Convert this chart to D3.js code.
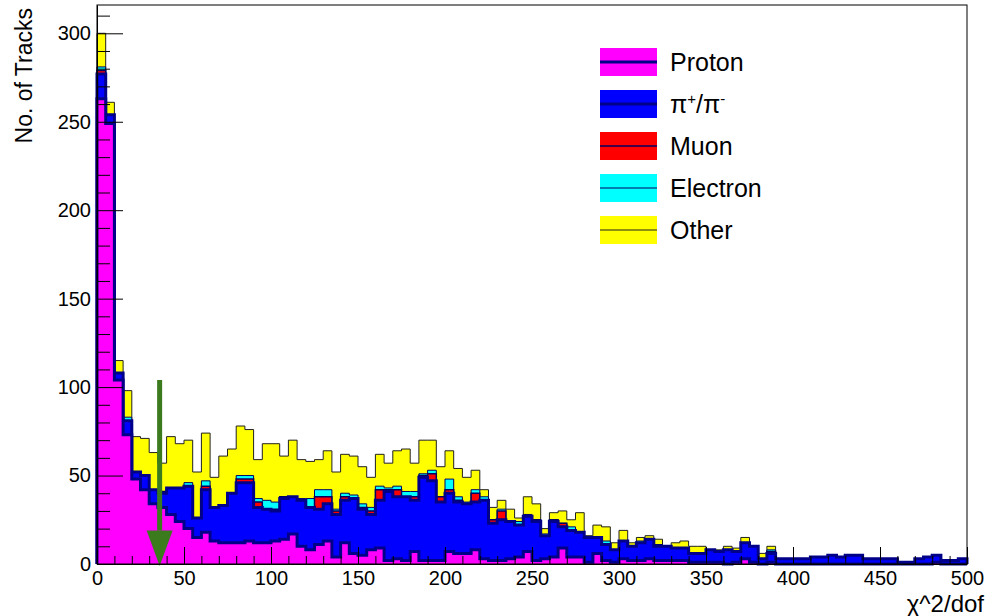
<!DOCTYPE html>
<html>
<head>
<meta charset="utf-8">
<script src="https://cdn.jsdelivr.net/npm/d3@7/dist/d3.min.js"></script>
<style>
  html, body { margin: 0; padding: 0; background: #fff; }
  svg { display: block; font-family: "Liberation Sans", Arial, Helvetica, sans-serif; }
</style>
</head>
<body>
<svg id="chart" width="987" height="616"></svg>
<script>
// ---------------- DATA ----------------
const binWidth = 5;
const xDomain = [0, 500];
const yDomain = [0, 316];
const binEdges = d3.range(0, 500, binWidth); // lower edge of each of the 100 bins

const proton = [
  263,249,104,73,48,42,34,32,28,24,
  20,15,18,13,12,12,12,13,12,12,
  13,14,17,10,8,11,13,4,12,6,
  5,8,9,2,3,2,7,2,2,2,
  7,6,6,8,3,2,2,3,4,7,
  2,3,4,9,4,4,1,6,2,1,
  3,2,2,3,2,2,2,2,1,1,
  1,1,0,1,3,1,0,1,0,0,
  0,0,0,0,0,0,0,0,0,0,
  0,0,0,0,0,0,1,0,0,0];
const pion = [
  14,5,4,8,4,8,8,8,15,19,
  24,11,24,19,21,28,34,33,20,19,
  17,23,21,26,24,20,21,24,24,31,
  26,20,27,39,35,36,29,47,45,33,
  33,29,28,27,33,21,23,21,18,20,
  22,13,20,12,15,14,14,9,9,7,
  10,8,10,11,8,8,7,7,5,5,
  7,6,8,6,9,9,3,5,3,3,
  3,3,4,4,5,4,5,5,3,3,
  3,3,1,1,3,4,4,2,2,3];
const muon = [
  2,0,0,0,0,0,0,1,0,0,
  0,0,2,0,0,0,2,2,3,0,
  1,1,0,0,0,7,4,2,2,0,
  1,2,6,1,4,0,2,1,4,3,
  2,1,0,5,0,2,5,0,0,0,
  1,0,1,2,0,0,0,0,0,0,
  0,0,0,0,0,0,0,0,0,0,
  0,0,0,0,0,0,0,1,0,0,
  0,0,0,0,0,0,0,0,0,0,
  0,0,0,0,0,0,0,0,0,0];
const electron = [
  2,0,0,2,0,0,0,0,0,0,
  2,0,3,0,0,0,2,2,2,5,
  4,0,0,1,5,4,4,1,2,2,
  2,2,2,1,2,3,3,1,2,0,
  6,2,1,2,2,0,1,0,2,1,
  0,1,0,0,2,0,0,0,2,0,
  0,0,1,0,1,0,0,0,0,0,
  0,0,0,0,0,0,0,1,0,0,
  0,0,0,0,0,0,0,0,0,0,
  0,0,0,0,0,0,0,0,0,0];
const other = [
  19,7,7,15,20,21,21,16,29,25,
  24,26,27,17,28,25,28,26,22,32,
  33,23,32,22,21,17,22,21,22,22,
  21,17,18,14,20,24,16,19,17,17,
  16,16,14,11,4,7,5,7,2,10,
  9,3,4,7,4,11,1,7,8,4,
  6,2,2,2,3,0,3,4,4,4,
  0,1,2,2,3,0,3,2,0,0,
  0,0,0,0,0,0,0,0,0,0,
  0,0,0,0,0,0,0,0,0,0];

const seriesNames = ["Proton", "Pion", "Muon", "Electron", "Other"];
const xTickValues = d3.range(0, 501, 50);
const yTickValues = d3.range(0, 301, 50);
const xTitle = "\u03c7^2/dof";
const yTitle = "No. of Tracks";
// cut arrow (data coords)
const arrowX = [36];
const arrowTail = [104];
const arrowHeadBase = [19];
const arrowTip = [0];

// ---------------- STYLE ----------------
const W = 987, H = 616;
const margin = { left: 97, right: 20, top: 5, bottom: 52 };
const styles = {
  Proton:   { fill: "#ff00ff", stroke: "#000088", width: 3 },
  Pion:     { fill: "#0000ff", stroke: "#000088", width: 3 },
  Muon:     { fill: "#ff0000", stroke: "#000060", width: 1.5 },
  Electron: { fill: "#00ffff", stroke: "#000060", width: 1 },
  Other:    { fill: "#ffff00", stroke: "#202020", width: 1 }
};

const svg = d3.select("#chart");
svg.append("rect").attr("width", W).attr("height", H).attr("fill", "#fff");

const x = d3.scaleLinear().domain(xDomain).range([margin.left, W - margin.right]);
const y = d3.scaleLinear().domain(yDomain).range([H - margin.bottom, margin.top]);

// cumulative stacks (bottom to top)
const raw = [proton, pion, muon, electron, other];
const cum = [];
raw.forEach((arr, k) => {
  cum.push(arr.map((v, i) => v + (k > 0 ? cum[k - 1][i] : 0)));
});

function pts(vals) {
  const p = [{ x: xDomain[0], v: 0 }];
  vals.forEach((v, i) => p.push({ x: binEdges[i], v }));
  p.push({ x: binEdges[binEdges.length - 1] + binWidth, v: vals[vals.length - 1] });
  p.push({ x: binEdges[binEdges.length - 1] + binWidth, v: 0 });
  return p;
}
const area = d3.area().curve(d3.curveStepAfter)
  .x(d => x(d.x)).y0(y(0)).y1(d => y(d.v));
const line = d3.line().curve(d3.curveStepAfter)
  .x(d => x(d.x)).y(d => y(d.v));

const gHist = svg.append("g");
// draw from the top of the stack downward, like THStack
for (let k = cum.length - 1; k >= 0; k--) {
  const st = styles[seriesNames[k]];
  const p = pts(cum[k]);
  gHist.append("path").attr("d", area(p)).attr("fill", st.fill).attr("stroke", "none");
  gHist.append("path").attr("d", line(p)).attr("fill", "none")
    .attr("stroke", st.stroke).attr("stroke-width", st.width);
}

// arrow
const gArrow = svg.append("g");
arrowX.forEach((ax, i) => {
  gArrow.append("line")
    .attr("x1", x(ax)).attr("x2", x(ax))
    .attr("y1", y(arrowTail[i])).attr("y2", y(arrowHeadBase[i]))
    .attr("stroke", "#3b7a1d").attr("stroke-width", 5);
  const hw = 13;
  gArrow.append("path")
    .attr("d", `M${x(ax) - hw},${y(arrowHeadBase[i])} L${x(ax) + hw},${y(arrowHeadBase[i])} L${x(ax)},${y(arrowTip[i]) + 2} Z`)
    .attr("fill", "#3b7a1d");
});

// frame
svg.append("rect")
  .attr("x", x(xDomain[0])).attr("y", y(yDomain[1]))
  .attr("width", x(xDomain[1]) - x(xDomain[0]))
  .attr("height", y(yDomain[0]) - y(yDomain[1]))
  .attr("fill", "none").attr("stroke", "#000").attr("stroke-width", 1);

// axes
const fontTick = 20;
const xMinor = d3.range(0, 501, 10).filter(v => v % 50 !== 0);
const yMinor = d3.range(0, 317, 10).filter(v => v % 50 !== 0);

const gx = svg.append("g").attr("transform", `translate(0,${y(0)})`);
gx.call(d3.axisBottom(x).tickValues(xTickValues).tickFormat(d3.format("d"))
  .tickSizeInner(-17).tickSizeOuter(0).tickPadding(7));
gx.append("g").call(d3.axisBottom(x).tickValues(xMinor).tickFormat("")
  .tickSizeInner(-8).tickSizeOuter(0)).select(".domain").remove();

const gy = svg.append("g").attr("transform", `translate(${x(0)},0)`);
gy.call(d3.axisLeft(y).tickValues(yTickValues).tickFormat(d3.format("d"))
  .tickSizeInner(-26).tickSizeOuter(0).tickPadding(6));
gy.append("g").call(d3.axisLeft(y).tickValues(yMinor).tickFormat("")
  .tickSizeInner(-13).tickSizeOuter(0)).select(".domain").remove();

svg.selectAll(".tick line").attr("stroke", "#000").attr("stroke-width", 1);
svg.selectAll(".domain").attr("stroke", "#000");
svg.selectAll(".tick text").attr("font-size", fontTick).attr("fill", "#000")
  .attr("font-family", '"Liberation Sans", Arial, sans-serif');

// axis titles
svg.append("text").attr("x", W - 3).attr("y", H - 4)
  .attr("text-anchor", "end").attr("font-size", 24).text(xTitle);
svg.append("text")
  .attr("transform", `translate(32,8) rotate(-90)`)
  .attr("text-anchor", "end").attr("font-size", 23).text(yTitle);

// legend
const legendRows = [
  { key: "Proton", y: 62 },
  { key: "Pion", y: 104 },
  { key: "Muon", y: 146 },
  { key: "Electron", y: 188 },
  { key: "Other", y: 230 }
];
const gLeg = svg.append("g");
legendRows.forEach(r => {
  const st = styles[r.key];
  gLeg.append("rect").attr("x", 600).attr("y", r.y - 14).attr("width", 57).attr("height", 28)
    .attr("fill", st.fill);
  gLeg.append("line").attr("x1", 600).attr("x2", 657).attr("y1", r.y).attr("y2", r.y)
    .attr("stroke", st.stroke).attr("stroke-width", st.width);
  const t = gLeg.append("text").attr("x", 670).attr("y", r.y + 9).attr("font-size", 25);
  if (r.key === "Pion") {
    t.append("tspan").text("\u03c0");
    t.append("tspan").attr("dy", -9).attr("font-size", 15).text("+");
    t.append("tspan").attr("dy", 9).text("/\u03c0");
    t.append("tspan").attr("dy", -9).attr("font-size", 15).text("-");
  } else {
    t.text(r.key);
  }
});
</script>
</body>
</html>
